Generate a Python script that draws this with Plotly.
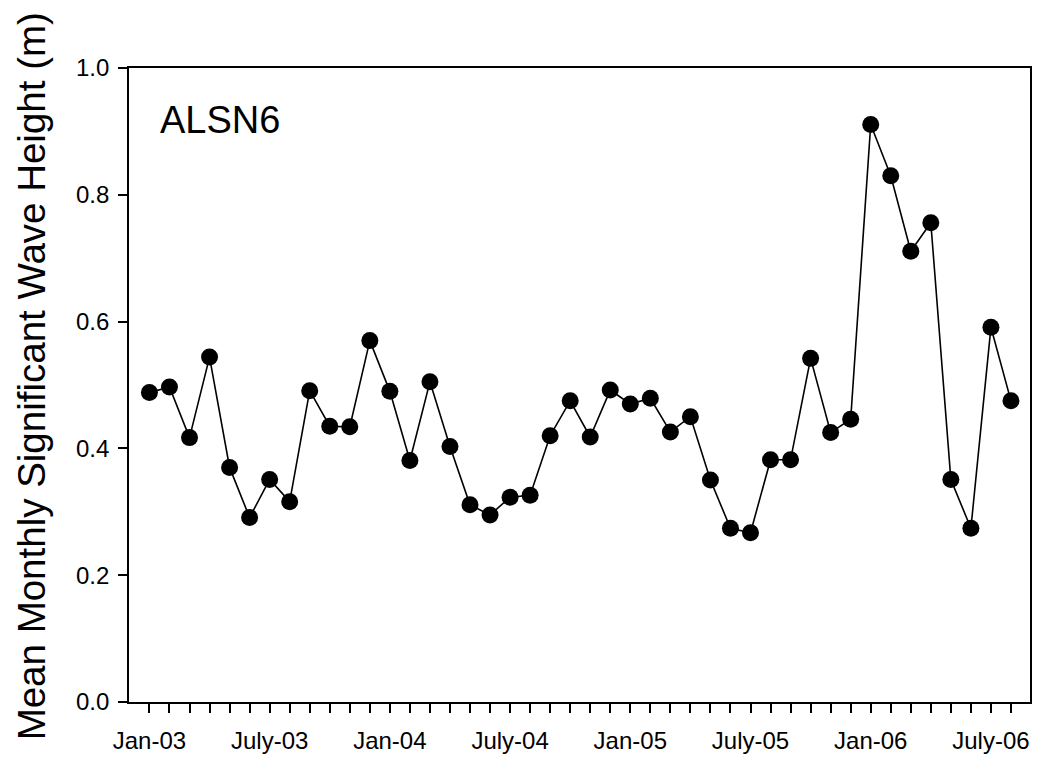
import plotly.graph_objects as go

# Monthly labels Jan-03 .. Aug-06
month_names = ["Jan", "Feb", "Mar", "Apr", "May", "June", "July", "Aug", "Sep", "Oct", "Nov", "Dec"]
years = ["03", "04", "05", "06"]
months = [f"{m}-{y}" for y in years for m in month_names][:44]

wave_height = [
    0.488, 0.497, 0.417, 0.544, 0.370, 0.291, 0.351, 0.316, 0.491, 0.435, 0.434, 0.570,
    0.490, 0.381, 0.505, 0.403, 0.311, 0.295, 0.323, 0.326, 0.420, 0.475, 0.418, 0.492,
    0.470, 0.479, 0.426, 0.450, 0.350, 0.274, 0.267, 0.382, 0.382, 0.542, 0.425, 0.446,
    0.911, 0.830, 0.711, 0.756, 0.351, 0.274, 0.591, 0.475,
]

labelled = ["Jan-03", "July-03", "Jan-04", "July-04", "Jan-05", "July-05", "Jan-06", "July-06"]
y_ticks = [0.0, 0.2, 0.4, 0.6, 0.8, 1.0]

x_idx = list(range(len(wave_height)))
tick_text = [m if m in labelled else "" for m in months]

FONT = "Arial, 'Liberation Sans', sans-serif"

fig = go.Figure()
fig.add_trace(go.Scatter(
    x=x_idx, y=wave_height, mode="lines+markers",
    line=dict(color="black", width=1.6),
    marker=dict(color="black", size=17, line=dict(width=0)),
    showlegend=False,
))

fig.update_xaxes(
    range=[-1.02, 43.95], tickmode="array", tickvals=x_idx, ticktext=tick_text,
    ticks="outside", ticklen=9, tickwidth=1.5, tickcolor="black",
    ticklabelstandoff=7,
    showline=True, linecolor="black", linewidth=1.6, mirror=True,
    showgrid=False, zeroline=False,
    tickfont=dict(family=FONT, size=24, color="black"),
)
fig.update_yaxes(
    range=[0, 1.0], tickmode="array", tickvals=y_ticks,
    ticktext=[f"{v:.1f}" for v in y_ticks],
    ticks="outside", ticklen=9, tickwidth=1.5, tickcolor="black",
    ticklabelstandoff=4,
    showline=True, linecolor="black", linewidth=1.6, mirror=True,
    showgrid=False, zeroline=False,
    tickfont=dict(family=FONT, size=24, color="black"),
)

fig.add_annotation(
    text="Mean Monthly Significant Wave Height (m)", textangle=-90,
    xref="paper", yref="paper", x=-0.1085, y=0.514,
    xanchor="center", yanchor="middle", showarrow=False,
    font=dict(family=FONT, size=38.5, color="black"),
)
fig.add_annotation(
    text="ALSN6", xref="paper", yref="paper", x=0.032, y=0.918,
    xanchor="left", yanchor="middle", showarrow=False,
    font=dict(family=FONT, size=38, color="black"),
)

fig.update_layout(
    width=1037, height=769,
    margin=dict(l=129, r=5, t=68, b=67),
    plot_bgcolor="white", paper_bgcolor="white",
)

fig.write_html(
    "out.html",
    config={"displayModeBar": False},
    post_script="document.body.style.margin='0';document.body.style.overflow='hidden';",
)
